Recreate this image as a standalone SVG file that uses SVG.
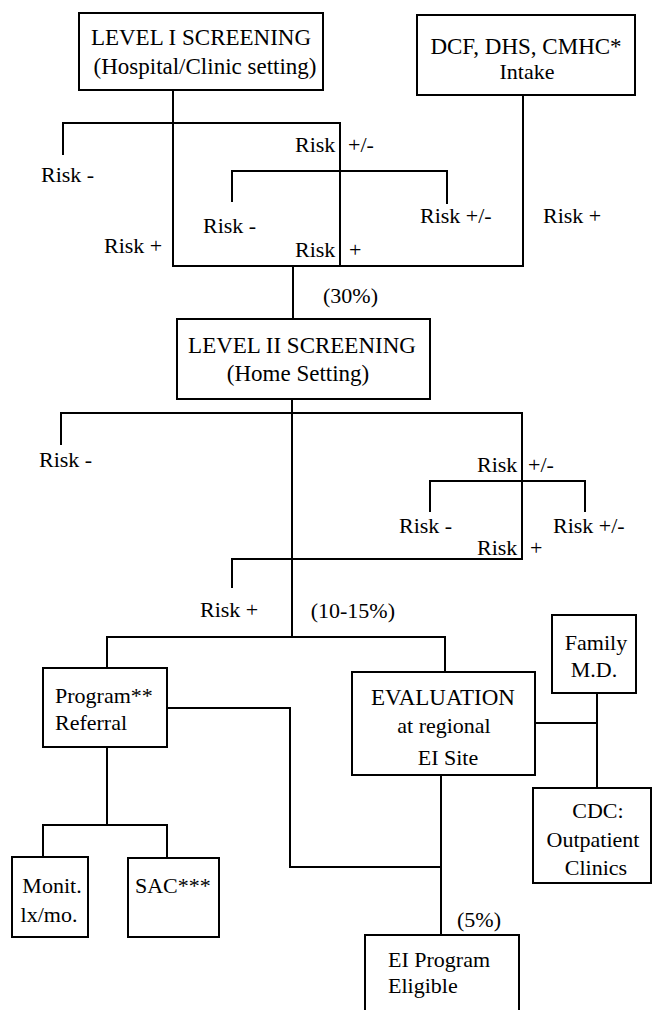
<svg xmlns="http://www.w3.org/2000/svg" width="653" height="1010" viewBox="0 0 653 1010">
<style>
text{font-family:"Liberation Serif","Times New Roman",serif;font-size:22px;fill:#000}
.t{font-size:23px}
.c{text-anchor:middle}
.box{fill:#fff;stroke:#000;stroke-width:2}
.ln{fill:none;stroke:#000;stroke-width:2}
</style>
<rect width="653" height="1010" fill="#fff"/>
<g id="connectors">
<path class="ln" d="M173 90V265"/>
<path class="ln" d="M63 155V123H340V266"/>
<path class="ln" d="M232 202V171H447V204"/>
<path class="ln" d="M523 95V266H172"/>
<path class="ln" d="M293 266V319"/>
<path class="ln" d="M292 399V637"/>
<path class="ln" d="M61 445V413H522V559H232V588"/>
<path class="ln" d="M430 512V481H585V512"/>
<path class="ln" d="M107 668V637H445V672"/>
<path class="ln" d="M167 708H290V867H441"/>
<path class="ln" d="M441 775V935"/>
<path class="ln" d="M535 723H597"/>
<path class="ln" d="M597 693V788"/>
<path class="ln" d="M107 747V825"/>
<path class="ln" d="M43 857V825H167V858"/>
</g>
<g id="labels">
<text x="41" y="182">Risk -</text>
<text x="295" y="152">Risk<tspan x="348">+/-</tspan></text>
<text x="203" y="233">Risk -</text>
<text x="420" y="223">Risk +/-</text>
<text x="543" y="223">Risk +</text>
<text x="104" y="253">Risk +</text>
<text x="295" y="257">Risk<tspan x="349">+</tspan></text>
<text x="323" y="303">(30%)</text>
<text x="39" y="467">Risk -</text>
<text x="477" y="472">Risk<tspan x="528">+/-</tspan></text>
<text x="399" y="533">Risk -</text>
<text x="553" y="533">Risk +/-</text>
<text x="477" y="555">Risk<tspan x="530">+</tspan></text>
<text x="200" y="617">Risk +</text>
<text x="395" y="618" style="text-anchor:end">(10-15%)</text>
<text x="457" y="927">(5%)</text>
</g>
<g id="level1">
<rect class="box" x="79" y="13" width="244" height="77"/>
<text class="t c" x="201" y="45">LEVEL I SCREENING</text>
<text class="t c" x="205" y="74">(Hospital/Clinic setting)</text>
</g>
<g id="intake">
<rect class="box" x="417" y="15" width="218" height="80"/>
<text class="t c" x="526" y="54">DCF, DHS, CMHC*</text>
<text class="c" x="527" y="79">Intake</text>
</g>
<g id="level2">
<rect class="box" x="177" y="319" width="253" height="80"/>
<text class="t c" x="302" y="353">LEVEL II SCREENING</text>
<text class="t c" x="298" y="381">(Home Setting)</text>
</g>
<g id="program-referral">
<rect class="box" x="43" y="668" width="124" height="79"/>
<text x="55" y="703">Program**</text>
<text x="55" y="730">Referral</text>
</g>
<g id="evaluation">
<rect class="box" x="352" y="672" width="183" height="103"/>
<text class="t c" x="443" y="705">EVALUATION</text>
<text class="c" x="444" y="733">at regional</text>
<text class="c" x="448" y="765">EI Site</text>
</g>
<g id="family-md">
<rect class="box" x="552" y="615" width="84" height="78"/>
<text class="c" x="596" y="650">Family</text>
<text class="c" x="594" y="677">M.D.</text>
</g>
<g id="cdc">
<rect class="box" x="533" y="788" width="118" height="95"/>
<text class="c" x="598" y="818">CDC:</text>
<text class="c" x="593" y="847">Outpatient</text>
<text class="c" x="596" y="875">Clinics</text>
</g>
<g id="monit">
<rect class="box" x="12" y="857" width="76" height="80"/>
<text class="c" x="52" y="893">Monit.</text>
<text class="c" x="49" y="922">lx/mo.</text>
</g>
<g id="sac">
<rect class="box" x="128" y="858" width="91" height="79"/>
<text x="135" y="893">SAC***</text>
</g>
<g id="ei-eligible">
<path class="box" d="M365 1012V935H519V1012"/>
<text x="388" y="967">EI Program</text>
<text x="388" y="993">Eligible</text>
</g>
</svg>
